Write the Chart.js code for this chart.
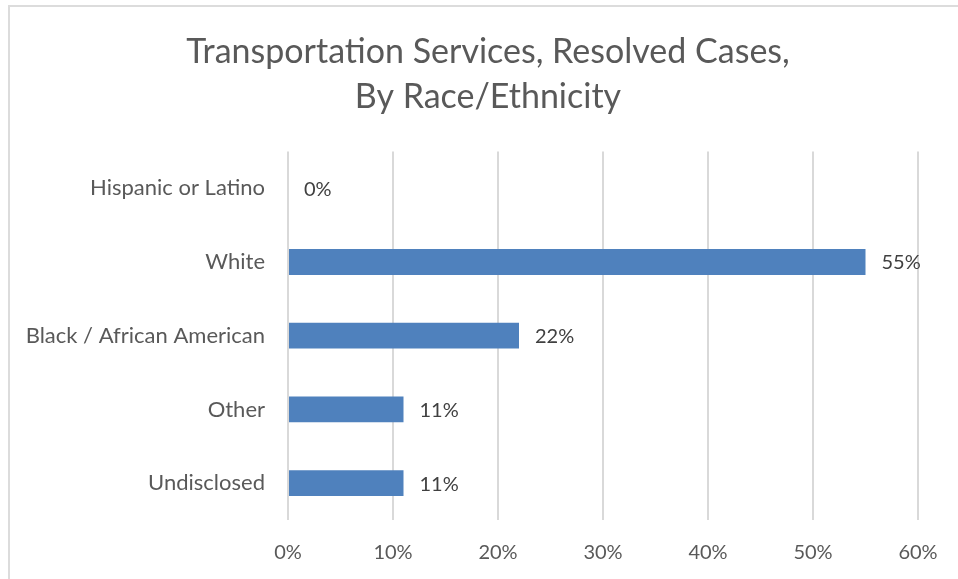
<!DOCTYPE html>
<html>
<head>
<meta charset="utf-8">
<script src="https://cdn.jsdelivr.net/npm/chart.js@4"></script>
<style>
  html, body { margin: 0; padding: 0; background: #fff; overflow: hidden; }
  #wrap { position: absolute; left: 8px; top: 5px; width: 1000px; height: 600px; border: 2px solid #dcdcdc; box-sizing: border-box; }
  #c { position: absolute; left: 0; top: 0; }
</style>
</head>
<body>
<div id="wrap"></div>
<canvas id="c" width="958" height="579"></canvas>
<script>
const categories = ["Hispanic or Latino", "White", "Black / African American", "Other", "Undisclosed"];
const shares = [0, 55, 22, 11, 11];
const tickValues = [0, 10, 20, 30, 40, 50, 60];

const FONT = "Lato, 'Open Sans', sans-serif";

// Draws each bar's percentage just past its end
const valueLabels = {
  id: 'valueLabels',
  afterDatasetsDraw(chart) {
    const { ctx } = chart;
    const meta = chart.getDatasetMeta(0);
    ctx.save();
    ctx.font = "20px " + FONT;
    ctx.fillStyle = "#404040";
    ctx.textAlign = "left";
    ctx.textBaseline = "middle";
    meta.data.forEach((bar, i) => {
      ctx.fillText(shares[i] + "%", bar.x + 16, bar.y + 1);
    });
    ctx.restore();
  }
};

new Chart(document.getElementById('c'), {
  type: 'bar',
  data: {
    labels: categories,
    datasets: [{
      data: shares,
      backgroundColor: '#4f81bd',
      borderWidth: 0,
      categoryPercentage: 1,
      barPercentage: 0.35
    }]
  },
  options: {
    indexAxis: 'y',
    responsive: false,
    animation: false,
    layout: { padding: { left: 18, right: 0, top: 29, bottom: 14 } },
    plugins: {
      legend: { display: false },
      tooltip: { enabled: false },
      title: {
        display: true,
        text: ["Transportation Services, Resolved Cases,", "By Race/Ethnicity"],
        color: '#595959',
        font: { family: FONT, size: 34, weight: 'normal', lineHeight: 1.33 },
        padding: { top: 0, bottom: 32 }
      }
    },
    scales: {
      x: {
        min: 0,
        max: 60,
        afterBuildTicks(scale) { scale.ticks = tickValues.map(v => ({ value: v })); },
        afterFit(scale) { scale.height = 45; scale.paddingRight = 40; },
        grid: { color: '#d9d9d9', lineWidth: 2, drawTicks: false },
        border: { display: false },
        ticks: {
          color: '#595959',
          font: { family: FONT, size: 20 },
          padding: 21,
          maxRotation: 0,
          callback: v => v + '%'
        }
      },
      y: {
        afterFit(scale) { scale.width = 270; },
        grid: { display: false, drawTicks: false },
        border: { display: false },
        ticks: {
          color: '#595959',
          font: { family: FONT, size: 22 },
          padding: 23
        }
      }
    }
  },
  plugins: [valueLabels]
});
</script>
</body>
</html>
